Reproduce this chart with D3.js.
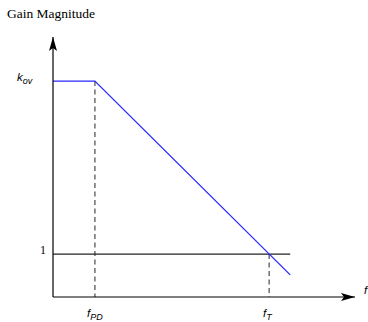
<!DOCTYPE html>
<html><head><meta charset="utf-8">
<script src="https://cdn.jsdelivr.net/npm/d3@7"></script>
<style>html,body{margin:0;padding:0;background:#fff;}svg{display:block;}
.serif{font-family:"Liberation Serif","Times New Roman",Times,"DejaVu Serif",serif;}
.sans{font-family:"Liberation Sans",Arial,Helvetica,sans-serif;}
</style>
</head><body>
<script>
// Data (log-frequency / log-gain, schematic Bode magnitude)
const freqs = [190, 1e3, 2.3e6];          // start, f_PD corner, end of roll-off
const gains = [1000, 1000, 0.435];        // k_ov plateau then -20dB/dec
const unityFreqs = [190, 2.3e6];
const unityGains = [1, 1];
const fPD = 1e3, fT = 1e6, kov = 1000;
const xDomain = [190, 3e7];
const yDomain = [0.18, 5800];

const W = 368, H = 322;
const svg = d3.select("body").append("svg").attr("width", W).attr("height", H);
const x = d3.scaleLog().domain(xDomain).range([53, 355]);
const y = d3.scaleLog().domain(yDomain).range([297, 37]);

const defs = svg.append("defs");
defs.append("marker").attr("id","arr").attr("viewBox","0 0 14 8").attr("refX",14).attr("refY",4)
  .attr("markerWidth",14).attr("markerHeight",8).attr("markerUnits","userSpaceOnUse").attr("orient","auto")
  .append("path").attr("d","M0,0 L14,4 L0,8 L3,4 Z").attr("fill","#000");

// title
svg.append("text").attr("class","serif").attr("x",7).attr("y",18)
  .attr("font-size",13.5).text("Gain Magnitude");

// dashed verticals
const dash = svg.append("g").attr("stroke","#777").attr("stroke-width",1.6).attr("stroke-dasharray","5,3.5");
dash.append("line").attr("x1",x(fPD)).attr("x2",x(fPD)).attr("y1",y(kov)).attr("y2",y(yDomain[0]));
dash.append("line").attr("x1",x(fT)).attr("x2",x(fT)).attr("y1",y(1)).attr("y2",y(yDomain[0]));

// unity line
const line = d3.line().x(d=>x(d[0])).y(d=>y(d[1]));
svg.append("path").attr("d", line(unityFreqs.map((f,i)=>[f,unityGains[i]])))
  .attr("stroke","#222").attr("stroke-width",1.2).attr("fill","none");

// gain curve
svg.append("path").attr("d", line(freqs.map((f,i)=>[f,gains[i]])))
  .attr("stroke","#2828ff").attr("stroke-width",1.3).attr("fill","none");

// axes
svg.append("line").attr("x1",x(xDomain[0])).attr("y1",y(yDomain[0])).attr("x2",x(xDomain[0])).attr("y2",y(yDomain[1]))
  .attr("stroke","#000").attr("stroke-width",1.2).attr("marker-end","url(#arr)");
svg.append("line").attr("x1",x(xDomain[0])).attr("y1",y(yDomain[0])).attr("x2",x(xDomain[1])).attr("y2",y(yDomain[0]))
  .attr("stroke","#000").attr("stroke-width",1.2).attr("marker-end","url(#arr)");

// labels
function sub(xp, yp, main, s, anchor) {
  const t = svg.append("text").attr("class","sans").attr("x",xp).attr("y",yp)
    .attr("font-style","italic").attr("font-size",11.5).attr("text-anchor",anchor||"start");
  t.append("tspan").text(main);
  if (s) t.append("tspan").attr("font-size",9).attr("dy",2.5).text(s);
}
sub(17, 81, "k", "ov");
sub(87, 317, "f", "PD");
sub(263, 317, "f", "T");
sub(364, 294, "f", "");
svg.append("text").attr("class","serif").attr("x",46).attr("y",254).attr("text-anchor","end")
  .attr("font-size",12).text("1");
</script>
</body></html>
